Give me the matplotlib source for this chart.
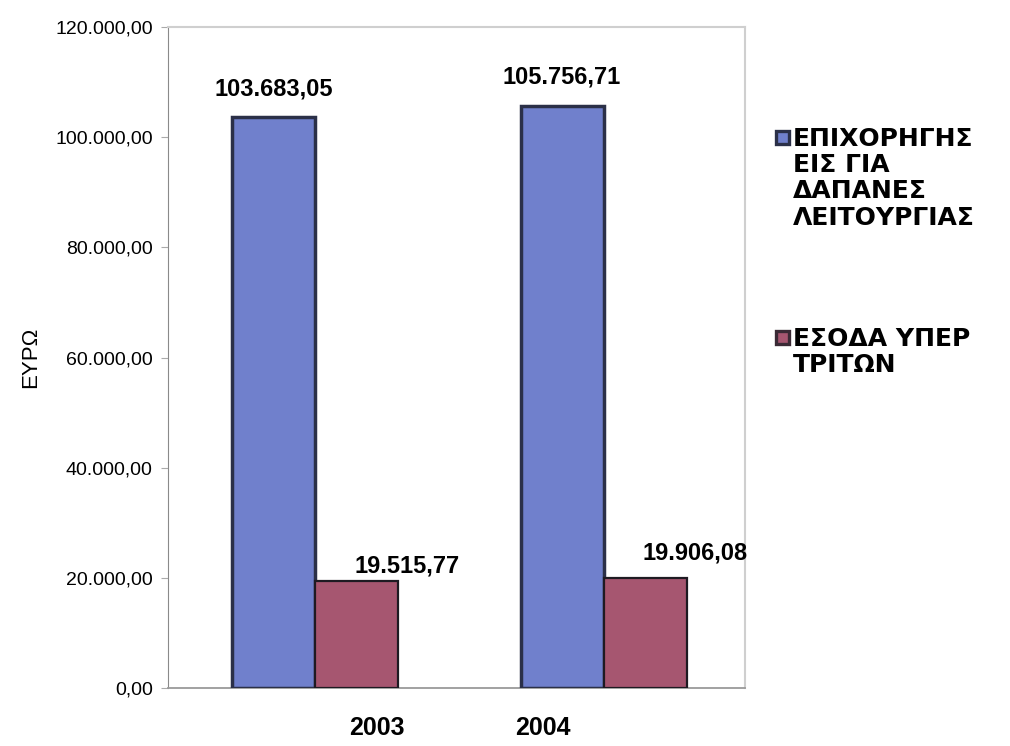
import matplotlib
matplotlib.use("Agg")
import matplotlib.pyplot as plt
import numpy as np
from matplotlib.patches import Rectangle

years = ["2003", "2004"]
series_names = ["ΕΠΙΧΟΡΗΓΗΣ\nΕΙΣ ΓΙΑ\nΔΑΠΑΝΕΣ\nΛΕΙΤΟΥΡΓΙΑΣ", "ΕΣΟΔΑ ΥΠΕΡ\nΤΡΙΤΩΝ"]
grants = [103683.05, 105756.71]
third_party = [19515.77, 19906.08]
yticks = [0, 20000, 40000, 60000, 80000, 100000, 120000]


def gr_fmt(v):
    s = f"{v:,.2f}"
    return s.replace(",", "X").replace(".", ",").replace("X", ".")


plt.rcParams["font.family"] = ["Liberation Sans", "DejaVu Sans"]

fig = plt.figure(figsize=(10.1, 7.46), dpi=100)
ax = fig.add_axes([0.1663, 0.0777, 0.5713, 0.886])

x = np.arange(len(years))
w = 0.288
blue = "#7080cc"
red = "#a65670"
ax.bar(x - w / 2, grants, w, color=blue, edgecolor="#2b3048", linewidth=2.5, zorder=3)
ax.bar(x + w / 2, third_party, w, color=red, edgecolor="#1e1a22", linewidth=1.6, zorder=3)

for xi, v in zip(x - w / 2, grants):
    ax.annotate(gr_fmt(v), (xi, v), xytext=(0, 12), textcoords="offset points",
                ha="center", va="bottom", fontsize=17, fontweight="bold")
red_offsets = [(36, 2), (36, 10)]
for xi, v, off in zip(x + w / 2, third_party, red_offsets):
    ax.annotate(gr_fmt(v), (xi, v), xytext=off, textcoords="offset points",
                ha="center", va="bottom", fontsize=17, fontweight="bold")

ax.set_xlim(-0.51, 1.49)
ax.set_ylim(0, 120000)
ax.set_yticks(yticks)
ax.set_yticklabels([gr_fmt(v) for v in yticks], fontsize=14)
ax.tick_params(axis="y", length=5, color="#aaaaaa", pad=6)

# year labels sit off-centre in the original
ax.set_xticks(x + np.array([0.215, -0.21]))
ax.set_xticklabels(years, fontsize=18, fontweight="bold")
ax.tick_params(axis="x", length=0, pad=20)

ax.set_ylabel("ΕΥΡΩ", fontsize=16)
ax.yaxis.set_label_coords(-0.22, 0.5)

for side in ["top", "right"]:
    ax.spines[side].set_color("#cfcfcf")
    ax.spines[side].set_linewidth(1.5)
ax.spines["left"].set_color("#8a8a8a")
ax.spines["left"].set_linestyle((0, (6, 1)))
ax.spines["bottom"].set_color("#9a9a9a")
ax.spines["bottom"].set_linewidth(1.3)

# legend, marker next to the first line of each entry
legend_items = [(blue, "#2b3048", 0.830), (red, "#3a2a35", 0.562)]
for (fc, ec, ytop), name in zip(legend_items, series_names):
    fig.patches.append(Rectangle((0.768, ytop - 0.0235), 0.013, 0.018, transform=fig.transFigure,
                                 facecolor=fc, edgecolor=ec, linewidth=2.4))
    fig.text(0.785, ytop, name, ha="left", va="top", fontsize=18, fontweight="bold",
             family="DejaVu Sans", linespacing=1.12)

fig.savefig("out.png", dpi=100)
